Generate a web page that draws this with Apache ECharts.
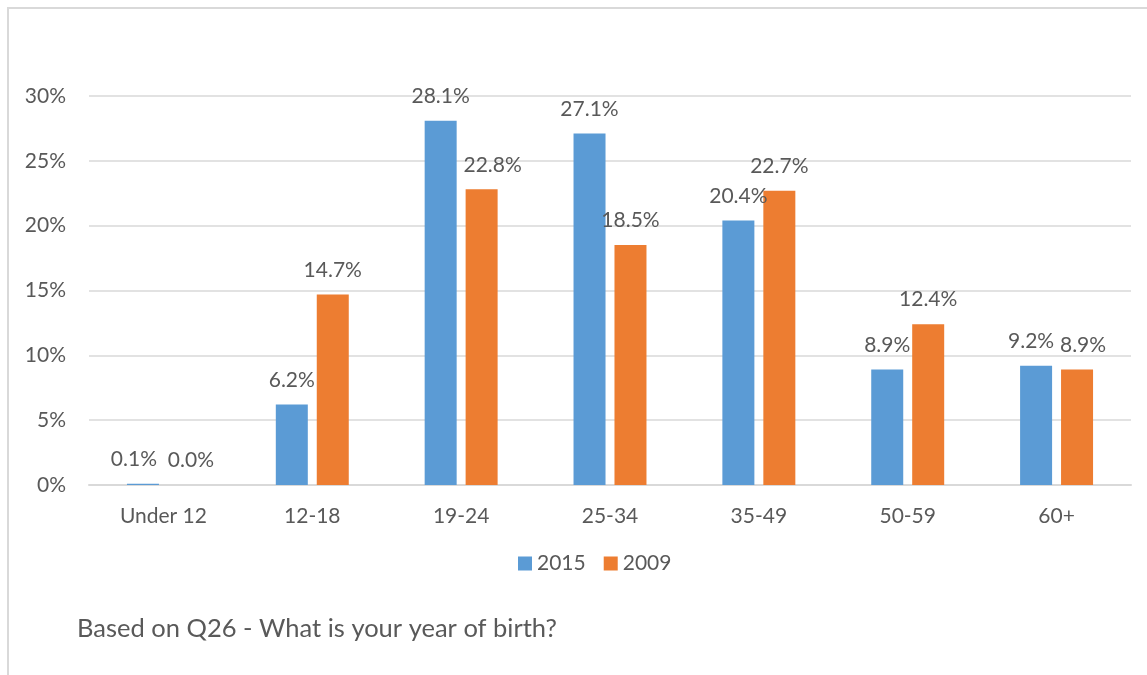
<!DOCTYPE html>
<html><head><meta charset="utf-8">
<script src="https://cdn.jsdelivr.net/npm/echarts@6/dist/echarts.min.js"></script>
<style>html,body{margin:0;padding:0;background:#fff}#c{width:1147px;height:675px}</style>
</head><body><div id="c"></div>
<script>
const categories = ['Under 12','12-18','19-24','25-34','35-49','50-59','60+'];
const s2015 = [0.1, 6.2, 28.1, 27.1, 20.4, 8.9, 9.2];
const s2009 = [0.0, 14.7, 22.8, 18.5, 22.7, 12.4, 8.9];
const seriesNames = ['2015','2009'];
const footnote = 'Based on Q26 - What is your year of birth?';
// horizontal nudges of data labels (as in the reference, to avoid overlaps)
const shift2015 = [-9, 0, 0, 0, 0, 0, -5];
const shift2009 = [7, 0, 11, 0, 0, 0, 6];
const FONT = 'Lato, "Open Sans", sans-serif';
const TXT = '#595959';
const chart = echarts.init(document.getElementById('c'));
const lbl = {show:true, position:'top', distance:14, color:TXT, fontSize:21, fontFamily:FONT, formatter:p=>p.value.toFixed(1)+'%'};
const mk = (vals, shifts) => vals.map((v,i)=>({value:v, label:{offset:[shifts[i],0]}}));
chart.setOption({
  animation:false,
  textStyle:{fontFamily:FONT},
  grid:{left:89, right:16, top:96, bottom:190, containLabel:false},
  legend:{data:seriesNames, left:513, top:548, itemWidth:14, itemHeight:14, itemGap:18, icon:'rect',
    textStyle:{color:TXT, fontSize:21, fontFamily:FONT}},
  xAxis:{type:'category', data:categories, axisTick:{show:false},
    axisLine:{lineStyle:{color:'#d9d9d9', width:2}},
    axisLabel:{color:TXT, fontSize:21, fontFamily:FONT, margin:21}},
  yAxis:{type:'value', min:0, max:30, interval:5, axisLine:{show:false}, axisTick:{show:false},
    splitLine:{lineStyle:{color:'#d9d9d9', width:1.5}},
    axisLabel:{color:TXT, fontSize:21, fontFamily:FONT, margin:23, formatter:v=>v+'%'}},
  series:[
    {name:seriesNames[0], type:'bar', data:mk(s2015, shift2015), barWidth:32, barGap:'28%', itemStyle:{color:'#5b9bd5'}, label:lbl},
    {name:seriesNames[1], type:'bar', data:mk(s2009, shift2009), barWidth:32, barGap:'28%', itemStyle:{color:'#ed7d31'}, label:lbl}
  ],
  graphic:[
    {type:'polyline', shape:{points:[[8,675],[8,8],[1147,8]]}, style:{stroke:'#d9d9d9', lineWidth:2, fill:null}},
    {type:'text', left:77, top:616, style:{text:footnote, fill:TXT, fontSize:25.5, fontFamily:FONT}}
  ]
});
</script></body></html>
